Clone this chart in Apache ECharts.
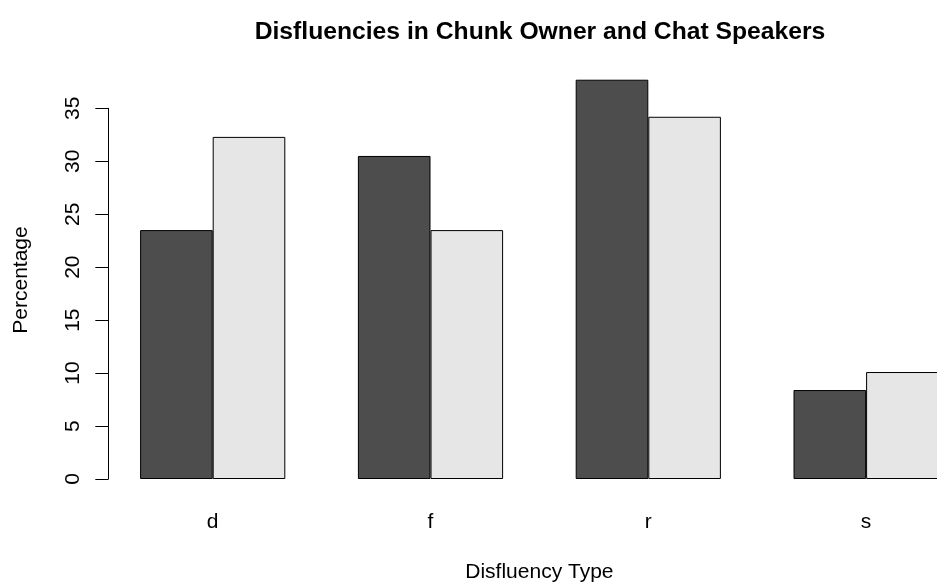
<!DOCTYPE html>
<html>
<head>
<meta charset="utf-8">
<script src="https://cdn.jsdelivr.net/npm/echarts@6/dist/echarts.min.js"></script>
<style>
html,body{margin:0;padding:0;background:#ffffff;}
#chart{width:937px;height:583px;}
</style>
</head>
<body>
<div id="chart"></div>
<script>
// ---- data ----
const categories = ['d', 'f', 'r', 's'];
const seriesNames = ['Chunk Owner', 'Chat Speakers'];
const chunkOwner = [23.5, 30.5, 37.7, 8.4];
const chatSpeakers = [32.3, 23.5, 34.2, 10.1];
const yMin = 0;
const yMax = 35;
const yStep = 5;
const titleText = 'Disfluencies in Chunk Owner and Chat Speakers';
const xTitle = 'Disfluency Type';
const yTitle = 'Percentage';

// ---- styling ----
const FONT = '"Liberation Sans", Arial, Helvetica, sans-serif';
const AXIS_FS = 21;
const chart = echarts.init(document.getElementById('chart'), null, {renderer: 'canvas'});

const option = {
  animation: false,
  backgroundColor: '#ffffff',
  title: {
    text: titleText,
    left: 535,
    top: 15,
    textAlign: 'center',
    textStyle: {fontFamily: FONT, fontSize: 24.7, fontWeight: 'bold', color: '#000'}
  },
  grid: {left: 103.8, top: 108.3, width: 871.2, height: 370.7, containLabel: false, outerBoundsMode: 'none'},
  xAxis: {
    type: 'category',
    data: categories,
    axisLine: {show: false},
    axisTick: {show: false},
    splitLine: {show: false},
    axisLabel: {fontFamily: FONT, fontSize: AXIS_FS, color: '#000', margin: 33},
    name: xTitle,
    nameLocation: 'middle',
    nameGap: 83,
    nameTextStyle: {fontFamily: FONT, fontSize: AXIS_FS, color: '#000'}
  },
  yAxis: {
    type: 'value',
    min: yMin,
    max: yMax,
    interval: yStep,
    offset: -4.5,
    axisLine: {show: true, lineStyle: {color: '#000', width: 1}},
    axisTick: {show: true, length: 13, lineStyle: {color: '#000', width: 1}},
    splitLine: {show: false},
    axisLabel: {fontFamily: FONT, fontSize: AXIS_FS, color: '#000', rotate: 90, margin: 25}
  },
  graphic: [{
    type: 'text',
    x: 21,
    y: 280,
    rotation: Math.PI / 2,
    style: {
      text: yTitle,
      font: AXIS_FS + 'px ' + FONT,
      fill: '#000',
      align: 'center',
      verticalAlign: 'middle'
    }
  }],
  series: [
    {
      name: seriesNames[0],
      type: 'bar',
      data: chunkOwner,
      barWidth: 72.6,
      barGap: '0%',
      clip: false,
      itemStyle: {color: '#4d4d4d', borderColor: '#000', borderWidth: 1}
    },
    {
      name: seriesNames[1],
      type: 'bar',
      data: chatSpeakers,
      barWidth: 72.6,
      barGap: '0%',
      clip: false,
      itemStyle: {color: '#e6e6e6', borderColor: '#000', borderWidth: 1}
    }
  ]
};
chart.setOption(option);
</script>
</body>
</html>
